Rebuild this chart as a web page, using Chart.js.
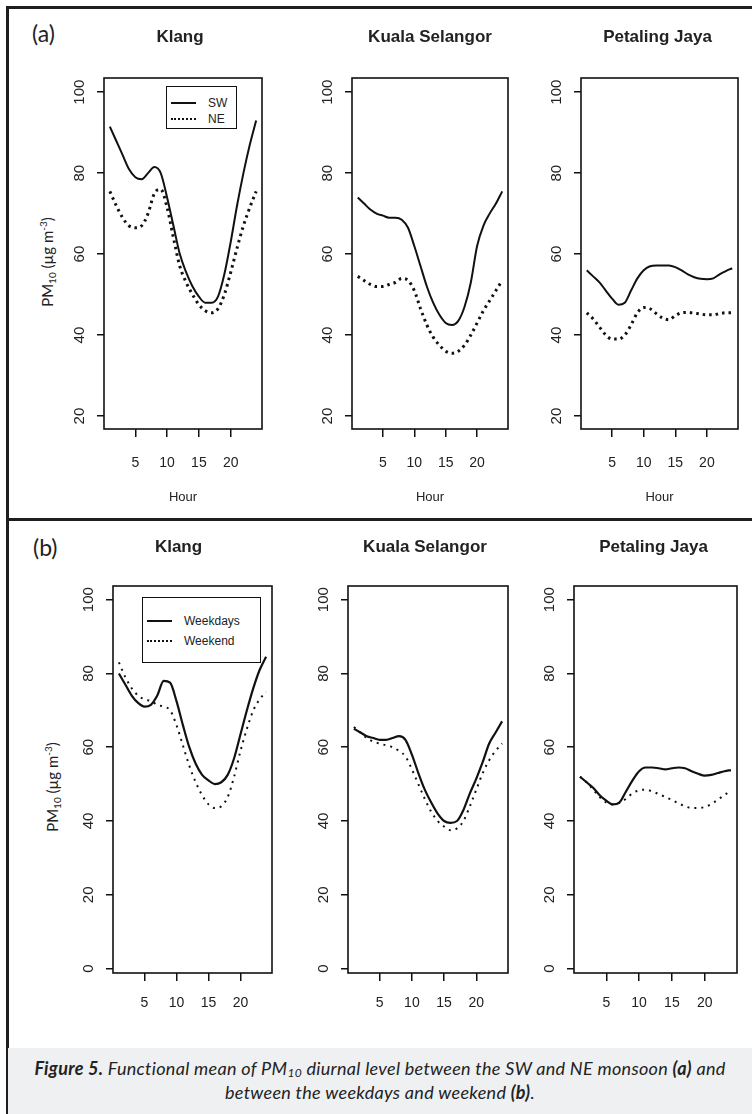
<!DOCTYPE html>
<html>
<head>
<meta charset="utf-8">
<script src="https://cdn.jsdelivr.net/npm/chart.js@4.4.1/dist/chart.umd.min.js"></script>
<style>
  html, body { margin: 0; padding: 0; background: #fff; overflow: hidden; }
  #page { position: relative; width: 752px; height: 1114px; overflow: hidden; }
  canvas { position: absolute; }
  .rule { position: absolute; background: #1e1e1e; }
  .tag { position: absolute; font-family: Lato, "Open Sans", sans-serif; font-size: 23px; line-height: 26px; color: #222; }
  .ylab { position: absolute; width: 160px; height: 20px; line-height: 20px; text-align: center;
          font-family: Lato, "Open Sans", sans-serif; font-size: 15px; color: #222; transform: rotate(-90deg); }
  .ylab sub { font-size: 10px; vertical-align: -3px; line-height: 0; }
  .ylab sup { font-size: 10px; vertical-align: 6px; line-height: 0; }
  .legend { position: absolute; box-sizing: border-box; border: 1.5px solid #111; background: #fff;
            font-family: "Liberation Sans", Arial, sans-serif; font-size: 12px; color: #222; }
  .legend .row { position: absolute; left: 0; height: 16px; line-height: 16px; white-space: nowrap; }
  .legend .sample { position: absolute; top: 7px; width: 25px; height: 0; }
  .legend .txt { position: absolute; }
  #caption { position: absolute; left: 8px; top: 1048px; width: 744px; height: 66px; background: #eff0f2;
             box-sizing: border-box; padding-top: 8px; text-align: center; font-family: Lato, "Open Sans", sans-serif;
             font-style: italic; font-size: 18px; letter-spacing: 0.3px; line-height: 24px; color: #222; }
  #caption sub { font-size: 12px; vertical-align: -2px; line-height: 0; }
</style>
</head>
<body>
<div id="page">
  <div class="rule" style="left:6px; top:6px; width:746px; height:2.5px;"></div>
  <div class="rule" style="left:6px; top:6px; width:2.5px; height:1108px;"></div>
  <div class="rule" style="left:6px; top:518px; width:746px; height:2.5px;"></div>

  <div class="tag" style="left:32px; top:20px;">(a)</div>
  <div class="tag" style="left:33px; top:534px;">(b)</div>

  <div class="ylab" style="left:-33px; top:252px;">PM<sub>10</sub> (µg m<sup>-3</sup>)</div>
  <div class="ylab" style="left:-28px; top:777px;">PM<sub>10</sub> (µg m<sup>-3</sup>)</div>

  <canvas id="a1"></canvas>
  <canvas id="a2"></canvas>
  <canvas id="a3"></canvas>
  <canvas id="b1"></canvas>
  <canvas id="b2"></canvas>
  <canvas id="b3"></canvas>

  <div id="caption"><b>Figure 5.</b> Functional mean of PM<sub>10</sub> diurnal level between the SW and NE monsoon <b>(a)</b> and<br>between the weekdays and weekend <b>(b)</b>.</div>
</div>

<script>
// hours of the day (x values)
const hours = [1, 2, 3, 4, 5, 6, 7, 8, 9, 10, 11, 12, 13, 14, 15, 16, 17, 18, 19, 20, 21, 22, 23, 24];
const xTicks = [5, 10, 15, 20];
const yTicksA = [20, 40, 60, 80, 100];
const yTicksB = [0, 20, 40, 60, 80, 100];

// (a) SW vs NE monsoon
const klangSW  = [91.5, 88, 84.5, 81, 79, 78.5, 80, 81.5, 80, 74, 67, 60, 55.5, 52, 49.5, 48, 48, 49.5, 55, 63, 72, 80, 87, 93];
const klangNE  = [75.5, 72, 69, 67, 66.5, 67, 70, 75, 76, 71.5, 64, 57, 53, 50, 47.5, 46, 45.5, 46.5, 50, 55.5, 61.5, 67, 71.5, 75.5];
const kualaSW  = [74, 72.5, 71, 70, 69.5, 69, 69, 68.5, 66.5, 62, 57, 52, 48, 45, 43, 42.5, 43.5, 47, 53, 62, 67, 70, 72.5, 75.5];
const kualaNE  = [54.5, 53.5, 52.5, 52, 52, 52.5, 53, 54, 53.5, 51, 46.5, 42.5, 39.5, 37.5, 36, 35.5, 36, 37.5, 40, 43, 46, 48.5, 51, 53.5];
const pjSW     = [56, 54.5, 53, 51, 49, 47.5, 48, 51, 54, 56, 57, 57.2, 57.2, 57.2, 56.8, 56, 55, 54.3, 53.9, 53.8, 54, 55, 55.8, 56.5];
const pjNE     = [45.5, 44, 42, 40, 39, 39, 40, 42.5, 45.5, 46.8, 46.5, 45.3, 44.2, 43.8, 44.8, 45.5, 45.6, 45.4, 45.2, 45, 45, 45.3, 45.5, 45.5];

// (b) weekdays vs weekend
const klangWeekdays = [80, 77, 74, 72, 71, 71.5, 74, 78, 77.5, 72.5, 66, 60, 55.5, 52.5, 51, 50, 50.5, 52.5, 57, 63.5, 70, 76, 81, 84.5];
const klangWeekend  = [83, 79, 76, 74, 73, 72.5, 71.5, 71, 70, 66, 60.5, 55, 50.5, 47, 44.5, 43.5, 44, 46.5, 52, 59, 65, 70, 73, 75];
const kualaWeekdays = [65, 64, 63, 62.5, 62, 62, 62.5, 63, 62, 58, 53, 48.5, 45, 42, 40, 39.5, 40, 43, 47.5, 51.5, 56, 61, 64, 67];
const kualaWeekend  = [65.5, 64, 62.5, 61.5, 61, 60.5, 60, 59, 57.5, 54, 50, 46, 42.5, 40, 38.5, 37.5, 38, 40, 44, 48.5, 53, 56.5, 59, 61];
const pjWeekdays    = [52, 50.5, 49, 47, 45.5, 44.5, 45, 48, 51, 53.5, 54.5, 54.5, 54.3, 54, 54.3, 54.5, 54.3, 53.5, 52.8, 52.3, 52.5, 53, 53.5, 53.8];
const pjWeekend     = [52, 50.5, 48.5, 46.5, 45, 44.5, 45, 46, 47.5, 48.3, 48.5, 48, 47.3, 46.5, 45.7, 44.8, 44, 43.5, 43.5, 43.8, 44.6, 45.8, 47, 48.3];

const seriesNamesA = ['SW', 'NE'];
const seriesNamesB = ['Weekdays', 'Weekend'];

/*****************************************
 * layout of the two rows of panels
 *****************************************/
const YW = 45;           // room for the y tick labels
const FONT = '"Liberation Sans", Arial, sans-serif';

const rows = {
  a: { top: 14, boxTop: 78, boxBottom: 429, xh: 80, yMin: 16.8, yMax: 103.5, yTicks: yTicksA,
       titleTop: 12.8, titleBottom: 30.8, xPad: 17.6, hour: true, hourPad: 4.2,
       solidW: 2, dotW: 3, dash: [2.5, 4] },
  b: { top: 522, boxTop: 586, boxBottom: 973, xh: 50, yMin: -1.2, yMax: 103.7, yTicks: yTicksB,
       titleTop: 14.8, titleBottom: 28.8, xPad: 13.6, hour: false, hourPad: 0,
       solidW: 2.2, dotW: 2, dash: [2, 5] }
};

// titleShift moves the title off the box centre (the scanned panels are not quite centred)
const panels = [
  { id: 'a1', row: 'a', title: 'Klang',          boxL: 104, boxR: 262, titleShift: -3, series: [klangSW, klangNE], names: seriesNamesA,
    legend: { left: 166, top: 86, width: 71, height: 43, rowTop: [94, 110], textLeft: 41 } },
  { id: 'a2', row: 'a', title: 'Kuala Selangor', boxL: 352, boxR: 508, titleShift: 0, series: [kualaSW, kualaNE], names: seriesNamesA },
  { id: 'a3', row: 'a', title: 'Petaling Jaya',  boxL: 581, boxR: 738, titleShift: -2, series: [pjSW, pjNE], names: seriesNamesA },
  { id: 'b1', row: 'b', title: 'Klang',          boxL: 113, boxR: 272, titleShift: -14, series: [klangWeekdays, klangWeekend], names: seriesNamesB,
    legend: { left: 142, top: 597, width: 119, height: 66, rowTop: [612, 632], textLeft: 41 } },
  { id: 'b2', row: 'b', title: 'Kuala Selangor', boxL: 348, boxR: 508, titleShift: -3, series: [kualaWeekdays, kualaWeekend], names: seriesNamesB },
  { id: 'b3', row: 'b', title: 'Petaling Jaya',  boxL: 574, boxR: 737, titleShift: -2, series: [pjWeekdays, pjWeekend], names: seriesNamesB }
];

// R style box round the plotting region
const boxPlugin = {
  id: 'box',
  afterDatasetsDraw(chart) {
    const { ctx, chartArea: a } = chart;
    ctx.save();
    ctx.strokeStyle = '#111';
    ctx.lineWidth = 1.6;
    ctx.strokeRect(a.left, a.top, a.right - a.left, a.bottom - a.top);
    ctx.restore();
  }
};

function tickGrid(len) {
  return { display: true, drawOnChartArea: false, drawTicks: true, tickLength: len, color: '#111', lineWidth: 1.5 };
}

function makePanel(p) {
  const r = rows[p.row];
  const rightW = YW + 2 * p.titleShift;   // empty room right of the box
  const cv = document.getElementById(p.id);
  cv.width = (p.boxR - p.boxL) + YW + rightW;
  cv.height = r.boxBottom + r.xh - r.top;
  cv.style.left = (p.boxL - YW) + 'px';
  cv.style.top = r.top + 'px';

  const datasets = p.series.map((vals, i) => ({
    label: p.names[i],
    data: hours.map((h, k) => ({ x: h, y: vals[k] })),
    borderColor: '#111',
    borderWidth: i === 0 ? r.solidW : r.dotW,
    borderDash: i === 0 ? [] : r.dash,
    pointRadius: 0,
    cubicInterpolationMode: 'monotone',
    fill: false
  }));

  const chart = new Chart(cv, {
    type: 'line',
    data: { datasets },
    options: {
      responsive: false,
      animation: false,
      devicePixelRatio: 1,
      layout: { padding: 0 },
      plugins: {
        legend: { display: false },
        tooltip: { enabled: false },
        title: {
          display: true, text: p.title, color: '#222',
          font: { family: FONT, size: 17, weight: 'bold', lineHeight: 1.2 },
          padding: { top: r.titleTop, bottom: r.titleBottom }
        }
      },
      scales: {
        x: {
          type: 'linear', min: 0.08, max: 24.92,
          afterBuildTicks: s => { s.ticks = xTicks.map(v => ({ value: v })); },
          afterFit: s => { s.height = r.xh; },
          grid: tickGrid(8),
          border: { display: false },
          ticks: { color: '#222', font: { family: FONT, size: 14, lineHeight: 1.2 }, padding: r.xPad, minRotation: 0, maxRotation: 0 },
          title: {
            display: r.hour, text: 'Hour', color: '#222',
            font: { family: FONT, size: 13, lineHeight: 1.2 },
            padding: { top: 0, bottom: r.hourPad }
          }
        },
        y: {
          type: 'linear', min: r.yMin, max: r.yMax,
          afterBuildTicks: s => { s.ticks = r.yTicks.map(v => ({ value: v })); },
          afterFit: s => { s.width = YW; },
          grid: tickGrid(7),
          border: { display: false },
          ticks: { color: '#222', font: { family: FONT, size: 15, lineHeight: 1.2 }, padding: 5,
                   minRotation: 90, maxRotation: 90, crossAlign: 'center' }
        },
        // empty axis on the right, only there so the title sits over the box
        yPad: {
          type: 'linear', position: 'right', display: true,
          grid: { display: false }, border: { display: false }, ticks: { display: false },
          afterFit: s => { s.width = rightW; }
        }
      }
    },
    plugins: [boxPlugin]
  });

  if (p.legend) makeLegend(p.legend, chart);
}

// legend box built from the chart's datasets
function makeLegend(L, chart) {
  const box = document.createElement('div');
  box.className = 'legend';
  Object.assign(box.style, { left: L.left + 'px', top: L.top + 'px', width: L.width + 'px', height: L.height + 'px' });
  chart.data.datasets.forEach((ds, i) => {
    const row = document.createElement('div');
    row.className = 'row';
    row.style.top = (L.rowTop[i] - L.top) + 'px';
    const s = document.createElement('span');
    s.className = 'sample';
    s.style.left = '4px';
    s.style.borderTop = ds.borderDash.length ? '2px dotted #111' : ds.borderWidth + 'px solid #111';
    const t = document.createElement('span');
    t.className = 'txt';
    t.style.left = L.textLeft + 'px';
    t.textContent = ds.label;
    row.appendChild(s);
    row.appendChild(t);
    box.appendChild(row);
  });
  document.getElementById('page').appendChild(box);
}

panels.forEach(makePanel);
</script>
</body>
</html>
